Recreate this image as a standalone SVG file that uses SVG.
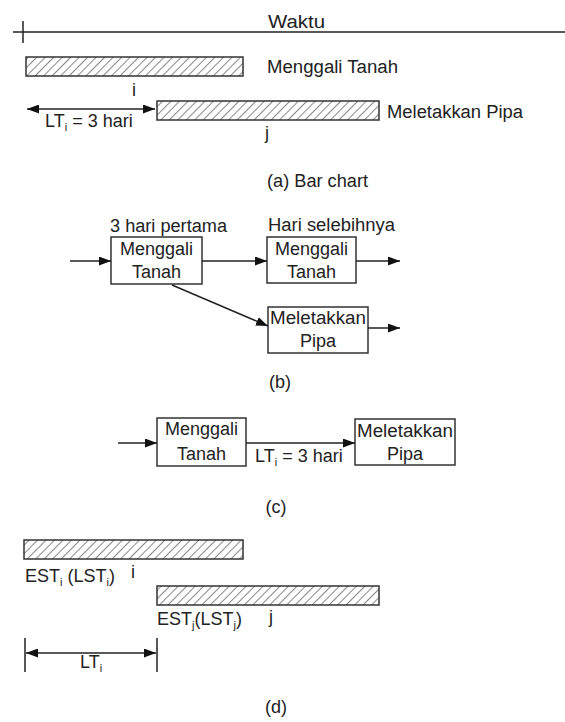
<svg xmlns="http://www.w3.org/2000/svg" width="565" height="722" viewBox="0 0 565 722">
<style>
text{font-family:"Liberation Sans",Arial,sans-serif;font-size:18px;fill:#222}
.c{text-anchor:middle}
.sub{font-size:11px}
.ln{stroke:#222;stroke-width:1.5;fill:none}
.box{fill:#fff;stroke:#333;stroke-width:1.5}
.bar{fill:url(#hatch);stroke:#333;stroke-width:1.5}
</style>
<defs>
<pattern id="hatch" patternUnits="userSpaceOnUse" width="6" height="6" patternTransform="rotate(45)">
<rect width="6" height="6" fill="#fff"/>
<line x1="0" y1="0" x2="0" y2="6" stroke="#888" stroke-width="2"/>
</pattern>
<marker id="ah" markerUnits="userSpaceOnUse" markerWidth="12" markerHeight="9" refX="12" refY="4.5" orient="auto-start-reverse">
<path d="M0,0 L12,4.5 L0,9 z" fill="#111"/>
</marker>
</defs>

<!-- (a) Bar chart -->
<g id="axis">
<line class="ln" x1="13" y1="32" x2="565" y2="32"/>
<line class="ln" x1="23" y1="21" x2="23" y2="43"/>
<text x="268" y="28" textLength="57" lengthAdjust="spacingAndGlyphs">Waktu</text>
</g>
<g id="bar-a-i">
<rect class="bar" x="26" y="57" width="217" height="19"/>
<text x="267" y="73" textLength="131" lengthAdjust="spacingAndGlyphs">Menggali Tanah</text>
<text x="134" y="96" class="c">i</text>
</g>
<g id="bar-a-j">
<rect class="bar" x="157" y="101" width="222" height="19"/>
<text x="387" y="118" textLength="136" lengthAdjust="spacingAndGlyphs">Meletakkan Pipa</text>
<text x="267" y="139" class="c">j</text>
</g>
<g id="lt-a">
<text x="45" y="127">LT<tspan class="sub" dy="4">i</tspan><tspan dy="-4"> = 3 hari</tspan></text>
</g>
<text x="267" y="187" textLength="101" lengthAdjust="spacingAndGlyphs">(a) Bar chart</text>

<!-- (b) -->
<g id="b-menggali-1">
<text x="110" y="232" textLength="117" lengthAdjust="spacingAndGlyphs">3 hari pertama</text>
<rect class="box" x="111" y="237" width="91" height="47"/>
<text x="156.5" y="255" class="c">Menggali</text>
<text x="156.5" y="278" class="c">Tanah</text>
</g>
<g id="b-menggali-2">
<text x="268" y="231" textLength="127" lengthAdjust="spacingAndGlyphs">Hari selebihnya</text>
<rect class="box" x="267" y="237" width="89" height="46"/>
<text x="311.5" y="255" class="c">Menggali</text>
<text x="311.5" y="278" class="c">Tanah</text>
</g>
<g id="b-meletakkan">
<rect class="box" x="268" y="307" width="100" height="46"/>
<text x="318" y="324" class="c" textLength="96" lengthAdjust="spacingAndGlyphs">Meletakkan</text>
<text x="318" y="347" class="c">Pipa</text>
</g>
<text x="280" y="388" class="c">(b)</text>

<!-- (c) -->
<g id="c-menggali">
<rect class="box" x="157" y="418" width="89" height="48"/>
<text x="201.5" y="435" class="c">Menggali</text>
<text x="201.5" y="460" class="c">Tanah</text>
</g>
<g id="c-meletakkan">
<rect class="box" x="355" y="419" width="100" height="46"/>
<text x="405" y="437" class="c" textLength="96" lengthAdjust="spacingAndGlyphs">Meletakkan</text>
<text x="405" y="460" class="c">Pipa</text>
</g>
<text x="255" y="462">LT<tspan class="sub" dy="4">i</tspan><tspan dy="-4"> = 3 hari</tspan></text>
<text x="276" y="513" class="c">(c)</text>

<!-- (d) -->
<g id="bar-d-i">
<rect class="bar" x="24" y="540" width="219" height="19"/>
<text x="25" y="582">EST<tspan class="sub" dy="4">i</tspan><tspan dy="-4"> (LST</tspan><tspan class="sub" dy="4">i</tspan><tspan dy="-4">)</tspan></text>
<text x="133" y="578" class="c">i</text>
</g>
<g id="bar-d-j">
<rect class="bar" x="157" y="586" width="222" height="19"/>
<text x="157" y="625">EST<tspan class="sub" dy="4">j</tspan><tspan dy="-4">(LST</tspan><tspan class="sub" dy="4">j</tspan><tspan dy="-4">)</tspan></text>
<text x="271" y="623" class="c">j</text>
</g>
<g id="lt-d">
<line class="ln" x1="25" y1="638" x2="25" y2="672"/>
<line class="ln" x1="157" y1="638" x2="157" y2="672"/>
<text x="80" y="668">LT<tspan class="sub" dy="4">i</tspan></text>
</g>
<text x="276" y="713" class="c">(d)</text>

<g id="connectors">
<line class="ln" x1="27" y1="109" x2="155" y2="109" marker-start="url(#ah)" marker-end="url(#ah)"/>
<line class="ln" x1="70" y1="261" x2="111" y2="261" marker-end="url(#ah)"/>
<line class="ln" x1="202" y1="261" x2="267" y2="261" marker-end="url(#ah)"/>
<line class="ln" x1="356" y1="261" x2="400" y2="261" marker-end="url(#ah)"/>
<line class="ln" x1="172" y1="285" x2="268" y2="326" marker-end="url(#ah)"/>
<line class="ln" x1="368" y1="328" x2="400" y2="328" marker-end="url(#ah)"/>
<line class="ln" x1="118" y1="443" x2="157" y2="443" marker-end="url(#ah)"/>
<line class="ln" x1="246" y1="443" x2="355" y2="443" marker-end="url(#ah)"/>
<line class="ln" x1="26" y1="653" x2="156" y2="653" marker-start="url(#ah)" marker-end="url(#ah)"/>
</g>
</svg>
